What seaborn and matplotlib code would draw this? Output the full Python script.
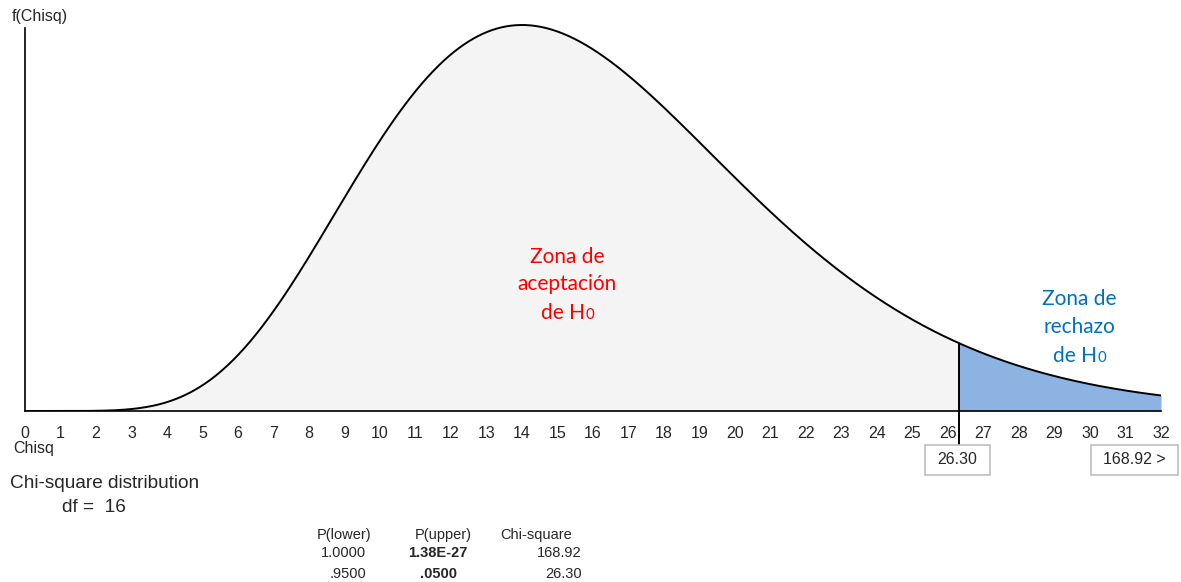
import math
import numpy as np
import pandas as pd
import matplotlib
matplotlib.use("Agg")
import matplotlib.pyplot as plt
from matplotlib.patches import Rectangle
import seaborn as sns

# Distribution settings and table values
df_chi = 16
x_max = 32
critical_value = 26.30
max_value = 168.92
tick_values = list(range(0, 33))
table_header = ["P(lower)", "P(upper)", "Chi-square"]
table_lower = ["1.0000", ".9500"]
table_upper = ["1.38E-27", ".0500"]
table_chisq = ["168.92", "26.30"]

sns.set_theme(style="white")
plt.rcParams["font.family"] = ["Liberation Sans", "DejaVu Sans"]

W, H = 1181, 582
fig = plt.figure(figsize=(W / 100, H / 100), dpi=100)

# axes geometry in pixels
x0_px, x1_px = 25, 1161
base_px, top_px = 411, 20
ax = fig.add_axes([x0_px / W, (H - base_px) / H, (x1_px - x0_px) / W, (base_px - top_px) / H])


def chi2_pdf(x, k):
    x = np.asarray(x, dtype=float)
    out = np.zeros_like(x)
    m = x > 0
    out[m] = np.exp((k / 2 - 1) * np.log(x[m]) - x[m] / 2 - (k / 2) * math.log(2) - math.lgamma(k / 2))
    return out


xs = np.linspace(0, x_max, 1200)
ys = chi2_pdf(xs, df_chi)
data = pd.DataFrame({"Chisq": xs, "f": ys})

peak = ys.max()
peak_px = 25
ymax = peak * (base_px - top_px) / (base_px - peak_px)
px_to_y = ymax / (base_px - top_px)

# shaded regions
acc = data["Chisq"] <= critical_value
ax.fill_between(data["Chisq"][acc], 0, data["f"][acc], color="#f4f4f4", lw=0)
rej = data["Chisq"] >= critical_value
xr = np.concatenate([[critical_value], data["Chisq"][rej].values])
yr = chi2_pdf(xr, df_chi)
ax.fill_between(xr, 0, yr, color="#8db3e2", lw=0)

sns.lineplot(data=data, x="Chisq", y="f", color="black", lw=1.4, ax=ax)

# critical value marker line extending to the value box
f_crit = chi2_pdf([critical_value], df_chi)[0]
ax.plot([critical_value, critical_value], [f_crit, -(445 - base_px) * px_to_y],
        color="black", lw=1.4, clip_on=False, solid_capstyle="butt")

ax.set_xlim(0, x_max)
ax.set_ylim(0, ymax)
ax.set_xticks(tick_values)
ax.set_xticklabels([str(t) for t in tick_values], fontsize=11.5)
ax.set_yticks([])
ax.set_xlabel("")
ax.set_ylabel("")
ax.tick_params(axis="x", direction="out", length=5, width=1.3, color="black", pad=5.5)
for s in ["top", "right"]:
    ax.spines[s].set_visible(False)
ax.spines["left"].set_color("black")
ax.spines["left"].set_linewidth(1.2)
ax.spines["left"].set_bounds(0, (base_px - 28) * px_to_y)
ax.spines["bottom"].set_color("black")
ax.spines["bottom"].set_linewidth(1.2)
ax.patch.set_alpha(0)


def fx(px):
    return px / W


def fy(py):
    return 1 - py / H


# axis titles
fig.text(fx(12), fy(17), "f(Chisq)", fontsize=11.5, ha="left", va="center")
fig.text(fx(13), fy(449), "Chisq", fontsize=11.5, ha="left", va="center")

renderer = fig.canvas.get_renderer()
zone_font = ["Lato", "DejaVu Sans"]


def h0_line(cx, cy, color, size):
    """Draw 'de H' followed by a smaller baseline-aligned 0, centred at cx."""
    main = fig.text(0, 0, "de H", color=color, fontsize=size, family=zone_font, va="baseline")
    sub = fig.text(0, 0, "0", color=color, fontsize=size * 0.72, family=zone_font, va="baseline")
    w_main = main.get_window_extent(renderer).width
    w_sub = sub.get_window_extent(renderer).width
    left = cx - (w_main + w_sub) / 2
    base = cy + size * 100 / 72 * 0.36
    main.set_position((fx(left), fy(base)))
    sub.set_position((fx(left + w_main + 0.5), fy(base)))


# zone labels
zone_size = 15
for txt, yy in zip(["Zona de", "aceptación"], [257, 284]):
    fig.text(fx(567), fy(yy), txt, color="#ff0000", fontsize=zone_size, ha="center", va="center", family=zone_font)
h0_line(567, 311, "#ff0000", zone_size)
for txt, yy in zip(["Zona de", "rechazo"], [299, 327]):
    fig.text(fx(1079), fy(yy), txt, color="#0070c0", fontsize=zone_size, ha="center", va="center", family=zone_font)
h0_line(1079, 354, "#0070c0", zone_size)

# value boxes below the axis
for (bx0, bx1), label in zip([(925, 990), (1091, 1178)], [f"{critical_value:.2f}", f"{max_value:.2f} >"]):
    fig.add_artist(Rectangle((fx(bx0), fy(475)), fx(bx1 - bx0), (475 - 445) / H,
                             transform=fig.transFigure, fill=False, edgecolor="#bdbdbd", lw=1.2))
    fig.text(fx((bx0 + bx1) / 2), fy(460), label, fontsize=11.5, ha="center", va="center")

# description
fig.text(fx(10), fy(484), "Chi-square distribution", fontsize=13.7, ha="left", va="center")
fig.text(fx(62), fy(508), f"df =  {df_chi}", fontsize=13.7, ha="left", va="center")

# summary table
tsize = 10.5
fig.text(fx(317), fy(535), table_header[0], fontsize=tsize, ha="left", va="center")
fig.text(fx(415), fy(535), table_header[1], fontsize=tsize, ha="left", va="center")
fig.text(fx(500), fy(535), table_header[2], fontsize=tsize, ha="left", va="center")
for i, yy in enumerate([553, 574]):
    fig.text(fx(366), fy(yy), table_lower[i], fontsize=tsize, ha="right", va="center")
    fig.text(fx(438), fy(yy), table_upper[i], fontsize=tsize, ha="center", va="center", fontweight="bold")
    fig.text(fx(582), fy(yy), table_chisq[i], fontsize=tsize, ha="right", va="center")

fig.savefig("out.png", dpi=100, facecolor="white")
